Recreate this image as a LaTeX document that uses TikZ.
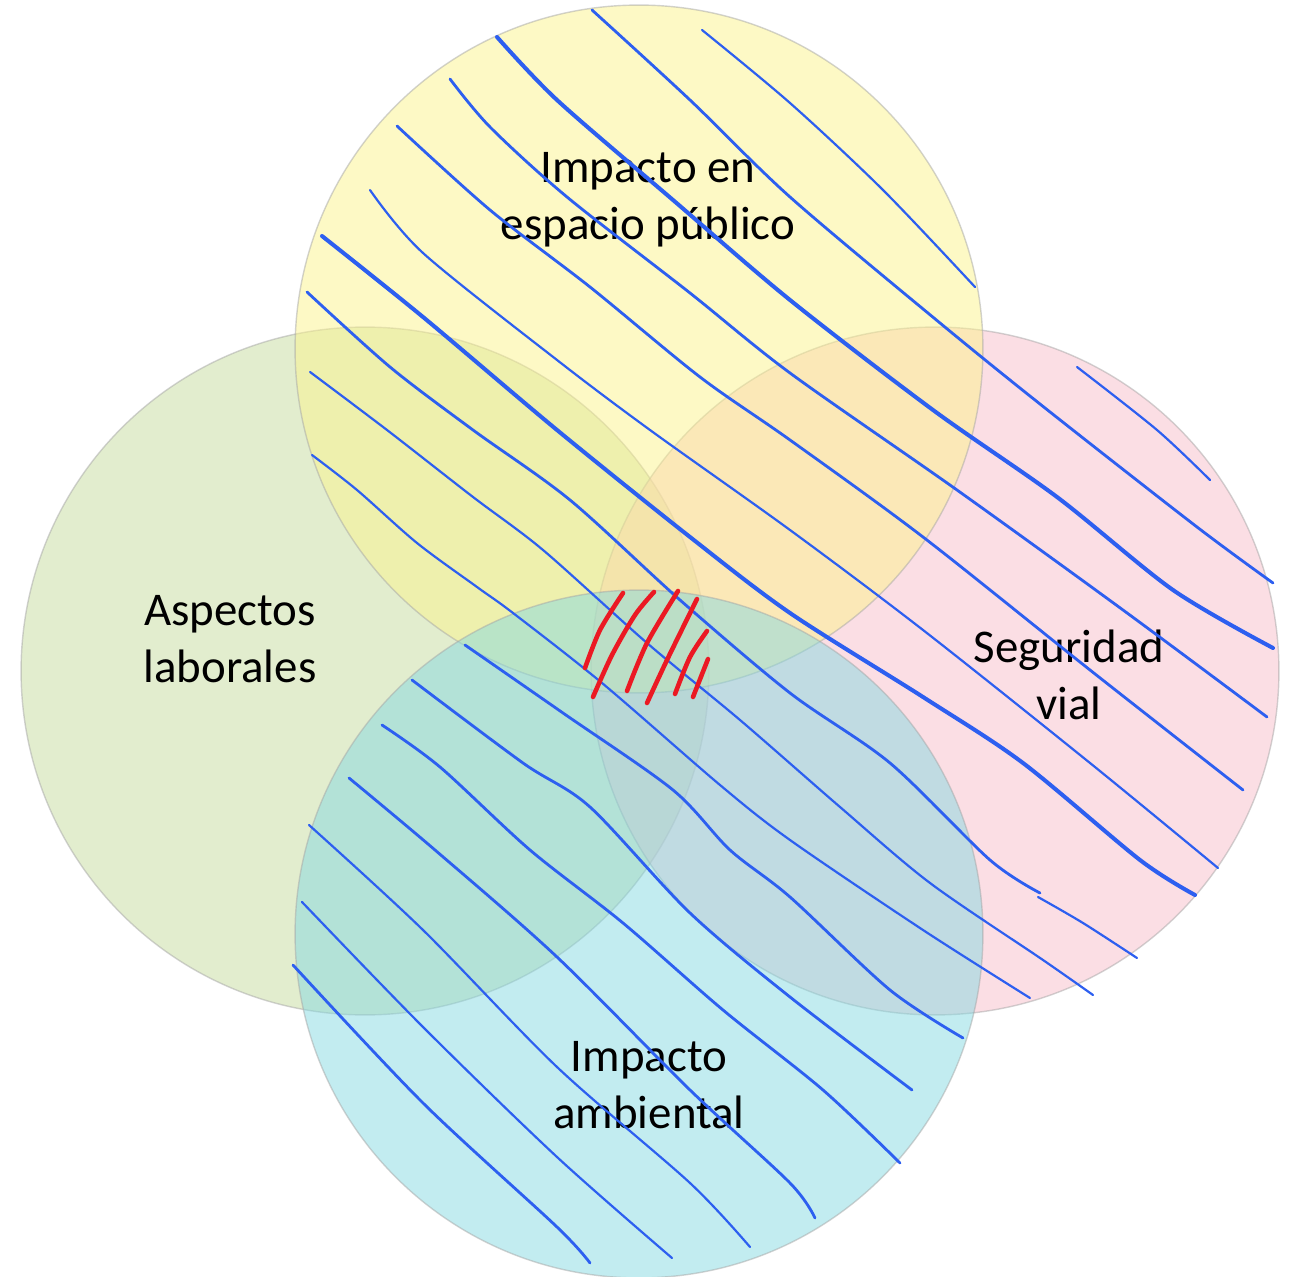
\documentclass[tikz,border=0pt]{standalone}
\usepackage{fontspec}
\setmainfont{Carlito}
\definecolor{vennyellow}{RGB}{252,243,140}
\definecolor{venngreen}{RGB}{197,219,158}
\definecolor{vennpink}{RGB}{247,189,201}
\definecolor{vennblue}{RGB}{133,217,225}
\definecolor{inkblue}{RGB}{45,95,240}
\definecolor{inkred}{RGB}{235,25,35}

\begin{document}
\begin{tikzpicture}
[x=0.02cm, y=-0.02cm,
venn/.style={circle, draw=gray!70, draw opacity=0.5, line width=0.8pt,
fill opacity=0.5, minimum size=13.76cm, inner sep=0pt},
venntext/.style={align=center, font=\fontsize{26.7}{32.4}\selectfont},
pen/.style={draw=inkblue, line width=1.6pt, line cap=round, line join=round},
thinpen/.style={pen, line width=1.25pt},
thickpen/.style={pen, line width=2.3pt},
redpen/.style={draw=inkred, line width=2.6pt, line cap=round}]
\useasboundingbox (0,0) rectangle (1292,1277);
% sets
\node [venn, fill=venngreen] (laboral) at (365,671) {};
\node [venn, fill=vennpink] (vial) at (935,671) {};
\node [venn, fill=vennyellow] (publico) at (639,349) {};
\node [venn, fill=vennblue] (ambiente) at (639,934) {};
% labels
\node [venntext] (publicotext) at (648,200) {Impacto en\\espacio público};
\node [venntext] (laboraltext) at (230,639) {Aspectos\\laborales};
\node [venntext] (vialtext) at (1069,675) {Seguridad\\vial};
\node [venntext] (ambientetext) at (649,1085) {Impacto\\ambiental};
% blue strokes
\draw [thinpen] plot [smooth] coordinates {(702,30) (790,103) (883,190) (975,287)};
\draw [pen] plot [smooth] coordinates {(592,10) (690,100) (790,197) (940,323) (1045,408) (1197,527) (1273,583)};
\draw [thickpen] plot [smooth] coordinates {(497,37) (557,100) (673,200) (790,300) (933,410) (1057,497) (1173,590) (1273,648)};
\draw [pen] plot [smooth] coordinates {(450,79) (490,127) (567,197) (690,293) (790,373) (957,490) (1123,610) (1267,717)};
\draw [pen] plot [smooth] coordinates {(397,126) (490,210) (590,287) (700,377) (790,440) (923,537) (1090,670) (1243,790)};
\draw [thinpen] plot [smooth] coordinates {(370,190) (423,253) (557,360) (650,430) (790,530) (923,630) (1090,763) (1218,868)};
\draw [thickpen] plot [smooth] coordinates {(322,236) (423,317) (557,430) (690,537) (790,613) (923,697) (1023,763) (1140,860) (1195,895)};
\draw [pen] plot [smooth] coordinates {(307,292) (390,367) (473,430) (570,500) (680,600) (790,693) (890,763) (990,860) (1040,893)};
\draw [thinpen] plot [smooth] coordinates {(1038,897) (1083,923) (1137,958)};
\draw [thinpen] plot [smooth] coordinates {(310,372) (387,430) (473,497) (543,550) (647,643) (740,720) (840,807) (930,883) (1043,960) (1093,995)};
\draw [thinpen] plot [smooth] coordinates {(312,455) (357,490) (417,543) (477,587) (513,613) (602,683) (720,785) (790,840) (923,930) (1030,998)};
\draw [pen] plot [smooth] coordinates {(465,645) (563,713) (673,790) (730,850) (790,897) (890,990) (963,1038)};
\draw [pen] plot [smooth] coordinates {(412,680) (523,763) (590,807) (690,913) (790,997) (912,1090)};
\draw [pen] plot [smooth] coordinates {(382,725) (440,767) (530,850) (623,923) (723,1010) (823,1090) (900,1163)};
\draw [pen] plot [smooth] coordinates {(349,778) (435,850) (557,957) (690,1090) (790,1183) (815,1218)};
\draw [thinpen] plot [smooth] coordinates {(309,825) (423,930) (557,1067) (690,1183) (750,1247)};
\draw [thinpen] plot [smooth] coordinates {(302,902) (423,1027) (557,1157) (672,1258)};
\draw [pen] plot [smooth] coordinates {(293,965) (423,1103) (557,1227) (590,1263)};
\draw [thinpen] plot [smooth] coordinates {(1077,367) (1157,430) (1210,480)};
% red strokes
\draw [redpen] plot [smooth] coordinates {(585,668) (600,630) (623,593)};
\draw [redpen] plot [smooth] coordinates {(593,697) (612,655) (635,615) (654,592)};
\draw [redpen] plot [smooth] coordinates {(627,691) (647,643) (678,591)};
\draw [redpen] plot [smooth] coordinates {(647,703) (667,660) (697,599)};
\draw [redpen] plot [smooth] coordinates {(675,694) (690,657) (707,631)};
\draw [redpen] plot [smooth] coordinates {(693,697) (708,659)};
\end{tikzpicture}
\end{document}
